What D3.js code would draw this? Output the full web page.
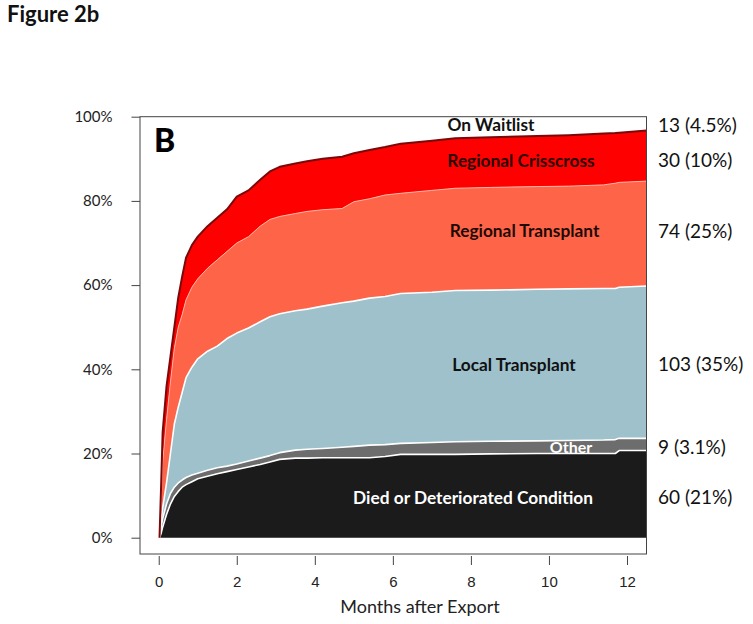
<!DOCTYPE html>
<html>
<head>
<meta charset="utf-8">
<script src="https://cdn.jsdelivr.net/npm/d3@7/dist/d3.min.js"></script>
<style>
  html, body { margin: 0; padding: 0; background: #fff; }
  svg { display: block; }
</style>
</head>
<body>
<svg id="chart" width="753" height="624"></svg>
<script>
// ---- data (cumulative % of exported offers, by outcome) ----
const months      = [0.02, 0.06, 0.1, 0.2, 0.3, 0.4, 0.5, 0.6, 0.7, 0.85, 1.0, 1.25, 1.5, 1.75, 2.0, 2.3, 2.6, 2.85, 3.1, 3.5, 3.8, 4.2, 4.7, 5.0, 5.4, 5.8, 6.2, 7.0, 7.6, 8.5, 9.7, 10.5, 11.4, 11.7, 11.8, 12.5];
const died        = [0, 1, 2.5, 5.5, 8, 9.8, 11, 12, 12.6, 13.3, 14, 14.6, 15.2, 15.7, 16.2, 16.8, 17.4, 18, 18.6, 18.9, 18.9, 19, 19, 19, 19, 19.3, 19.8, 19.8, 19.8, 19.9, 20, 20, 20, 20, 20.7, 20.7];
const other       = [0, 1.5, 2, 2.5, 2.5, 2.2, 2, 1.7, 1.7, 1.6, 1.3, 1.4, 1.4, 1.3, 1.3, 1.4, 1.5, 1.5, 1.6, 1.9, 2.1, 2.2, 2.5, 2.7, 3, 2.8, 2.6, 2.8, 3, 3, 3, 3.1, 3.2, 3.3, 2.9, 2.9];
const local       = [0, 1.5, 2.5, 5, 9.5, 15, 18, 20.8, 23.7, 25.6, 27.2, 28.3, 28.9, 30.3, 31.1, 31.6, 32.4, 33, 33, 33.1, 33.3, 33.8, 34.3, 34.5, 34.9, 35.2, 35.6, 35.7, 35.9, 35.9, 36, 36, 36, 35.9, 35.9, 36.2];
const regional    = [0, 4, 11, 15, 17, 18, 19, 18.5, 18.5, 19, 19, 19.7, 20.5, 20.7, 21.4, 21.7, 22.7, 23.1, 23.1, 23.1, 23.2, 22.9, 22.4, 23.6, 23.6, 24.1, 23.8, 24.2, 24.3, 24.4, 24.4, 24.4, 24.6, 25, 24.9, 24.9];
const crisscross  = [0, 4, 7, 8, 6, 5, 7, 9, 10, 10, 10, 10, 10, 10, 11, 11, 11, 11.4, 11.8, 11.9, 11.9, 12.1, 12.3, 11.5, 11.6, 11.4, 11.8, 11.8, 11.9, 11.9, 12, 12.1, 12.2, 11.9, 11.8, 12];

const seriesKeys  = ["died", "other", "local", "regional", "crisscross"];
const seriesNames = ["Died or Deteriorated Condition", "Other", "Local Transplant", "Regional Transplant", "Regional Crisscross"];
const endLabels   = ["60 (21%)", "9 (3.1%)", "103 (35%)", "74 (25%)", "30 (10%)"];
const waitlistName  = "On Waitlist";
const waitlistLabel = "13 (4.5%)";
const xTicks = [0, 2, 4, 6, 8, 10, 12];
const yTicks = [0, 20, 40, 60, 80, 100];

// ---- styling ----
const fills   = { died: "#1b1b1b", other: "#6d6d6d", local: "#9ec1cc", regional: "#fe6448", crisscross: "#fe0000" };
const edges   = { died: "#ffffff", other: "#ffffff", local: "#ffffff", regional: "#ffb3a3", crisscross: "#7a0a0a" };
const edgeW   = { died: 1.6, other: 1.6, local: 1.6, regional: 1.0, crisscross: 2.0 };

const rows = months.map((m, i) => ({
  t: m, died: died[i], other: other[i], local: local[i], regional: regional[i], crisscross: crisscross[i]
}));

const svg = d3.select("#chart");
const box = { left: 140, right: 646.5, top: 116.7, bottom: 554 };

const x = d3.scaleLinear().domain([-0.48, 12.5]).range([box.left, box.right]);
const y = d3.scaleLinear().domain([0, 100]).range([537.7, 116.7]);

const stacked = d3.stack().keys(seriesKeys)(rows);

svg.append("defs").append("clipPath").attr("id", "clip")
  .append("rect")
  .attr("x", box.left).attr("y", box.top)
  .attr("width", box.right - box.left).attr("height", box.bottom - box.top);

const g = svg.append("g").attr("clip-path", "url(#clip)");

const area = d3.area()
  .x(d => x(d.data.t))
  .y0(d => y(d[0]))
  .y1(d => y(d[1]))
  .curve(d3.curveLinear);

const topLine = d3.line()
  .x(d => x(d.data.t))
  .y(d => y(d[1]))
  .curve(d3.curveLinear);

g.selectAll("path.layer").data(stacked).join("path")
  .attr("class", "layer")
  .attr("d", area)
  .attr("fill", d => fills[d.key]);

g.selectAll("path.edge").data(stacked).join("path")
  .attr("class", "edge")
  .attr("d", topLine)
  .attr("fill", "none")
  .attr("stroke", d => edges[d.key])
  .attr("stroke-width", d => edgeW[d.key])
  .attr("stroke-linejoin", "round");

// ---- frame ----
svg.append("rect")
  .attr("x", box.left).attr("y", box.top)
  .attr("width", box.right - box.left).attr("height", box.bottom - box.top)
  .attr("fill", "none").attr("stroke", "#444").attr("stroke-width", 1);

// ---- y axis ----
const yAxis = d3.axisLeft(y).tickValues(yTicks).tickSize(8.5).tickPadding(19)
  .tickFormat(d => d + "%");
const yg = svg.append("g").attr("transform", `translate(${box.left},0)`).call(yAxis);
yg.select(".domain").remove();
yg.selectAll("line").attr("stroke", "#444");
yg.selectAll("text").attr("font-family", "Lato, 'Open Sans', sans-serif")
  .attr("font-size", 15).attr("fill", "#222");

// ---- x axis ----
const xAxis = d3.axisBottom(x).tickValues(xTicks).tickSize(9).tickPadding(11);
const xg = svg.append("g").attr("transform", `translate(0,${box.bottom + 2})`).call(xAxis);
xg.select(".domain").remove();
xg.selectAll("line").attr("stroke", "#444");
xg.selectAll("text").attr("font-family", "'Liberation Sans', Arial, sans-serif")
  .attr("font-size", 15).attr("fill", "#222");

svg.append("text")
  .attr("x", 420).attr("y", 613)
  .attr("text-anchor", "middle")
  .attr("font-family", "Lato, 'Open Sans', sans-serif")
  .attr("font-size", 18).attr("fill", "#222")
  .text("Months after Export");

// ---- titles ----
svg.append("text")
  .attr("x", 7).attr("y", 22)
  .attr("font-family", "Lato, 'Open Sans', sans-serif")
  .attr("font-weight", "bold").attr("font-size", 22).attr("fill", "#111")
  .text("Figure 2b");

svg.append("text")
  .attr("x", 154).attr("y", 151.5)
  .attr("font-family", "Lato, 'Open Sans', sans-serif")
  .attr("font-weight", 900).attr("font-size", 32).attr("fill", "#000")
  .text("B");

// ---- in-area labels ----
const inLabels = [
  { text: waitlistName,   x: 491, y: 125,   color: "#111", size: 17.3 },
  { text: seriesNames[4], x: 521, y: 160.7, color: "#2a0303", size: 17.3 },
  { text: seriesNames[3], x: 524.5, y: 231, color: "#1e0a06", size: 17.3 },
  { text: seriesNames[2], x: 514, y: 365,   color: "#111", size: 17.3 },
  { text: seriesNames[1], x: 571, y: 447.5, color: "#fff", size: 16 },
  { text: seriesNames[0], x: 473, y: 497.5, color: "#fff", size: 17.3 }
];
svg.selectAll("text.inl").data(inLabels).join("text")
  .attr("class", "inl")
  .attr("x", d => d.x).attr("y", d => d.y)
  .attr("dy", "0.35em")
  .attr("text-anchor", "middle")
  .attr("font-family", "Lato, 'Open Sans', sans-serif")
  .attr("font-weight", "bold")
  .attr("font-size", d => d.size)
  .attr("fill", d => d.color)
  .text(d => d.text);

// ---- right-side counts ----
const rightLabels = [
  { text: waitlistLabel, y: 125 },
  { text: endLabels[4], y: 160.7 },
  { text: endLabels[3], y: 231 },
  { text: endLabels[2], y: 364 },
  { text: endLabels[1], y: 447.3 },
  { text: endLabels[0], y: 497.3 }
];
svg.selectAll("text.rl").data(rightLabels).join("text")
  .attr("class", "rl")
  .attr("x", 658).attr("y", d => d.y)
  .attr("dy", "0.35em")
  .attr("font-family", "Lato, 'Open Sans', sans-serif")
  .attr("font-size", 19).attr("fill", "#111")
  .text(d => d.text);
</script>
</body>
</html>
